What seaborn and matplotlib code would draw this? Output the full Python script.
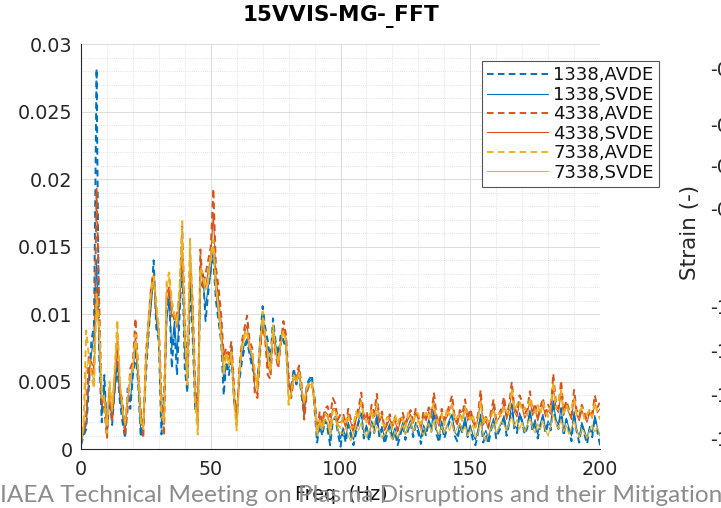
import matplotlib
matplotlib.use("Agg")
import matplotlib.pyplot as plt
import seaborn as sns
from matplotlib.ticker import FixedLocator, MultipleLocator, FixedFormatter

# Frequency axis of the FFT (Hz)
freq_hz = list(range(0, 201))

# FFT amplitude of the strain signal for each case
amp_1338_avde = [
    0.0003, 0.0010, 0.0015, 0.0045, 0.0080, 0.0092, 0.0282, 0.0070, 0.0020, 0.0055,
    0.0012, 0.0040, 0.0018, 0.0045, 0.0060, 0.0035, 0.0020, 0.0008, 0.0045, 0.0030,
    0.0055, 0.0070, 0.0050, 0.0009, 0.0020, 0.0055, 0.0085, 0.0110, 0.0140, 0.0090,
    0.0080, 0.0011, 0.0040, 0.0100, 0.0115, 0.0060, 0.0090, 0.0055, 0.0100, 0.0140,
    0.0060, 0.0042, 0.0120, 0.0085, 0.0030, 0.0025, 0.0125, 0.0130, 0.0095, 0.0115,
    0.0135, 0.0140, 0.0110, 0.0095, 0.0080, 0.0040, 0.0065, 0.0055, 0.0070, 0.0035,
    0.0025, 0.0050, 0.0065, 0.0075, 0.0080, 0.0070, 0.0060, 0.0055, 0.0050, 0.0080,
    0.0106, 0.0090, 0.0080, 0.0065, 0.0097, 0.0080, 0.0070, 0.0085, 0.0080, 0.0075,
    0.0045, 0.0045, 0.0060, 0.0048, 0.0055, 0.0040, 0.0025, 0.0048, 0.0052, 0.0055,
    0.0030, 0.0005, 0.0018, 0.0010, 0.0022, 0.0015, 0.0003, 0.0020, 0.0024, 0.0012,
    0.0002, 0.0014, 0.0005, 0.0018, 0.0010, 0.0003, 0.0012, 0.0020, 0.0026, 0.0008,
    0.0016, 0.0006, 0.0019, 0.0012, 0.0024, 0.0009, 0.0015, 0.0004, 0.0011, 0.0017,
    0.0006, 0.0013, 0.0003, 0.0010, 0.0018, 0.0007, 0.0014, 0.0020, 0.0009, 0.0018,
    0.0012, 0.0004, 0.0016, 0.0010, 0.0021, 0.0013, 0.0028, 0.0011, 0.0005, 0.0019,
    0.0008, 0.0015, 0.0020, 0.0025, 0.0010, 0.0006, 0.0017, 0.0012, 0.0022, 0.0009,
    0.0016, 0.0007, 0.0003, 0.0012, 0.0024, 0.0005, 0.0011, 0.0004, 0.0014, 0.0021,
    0.0008, 0.0013, 0.0017, 0.0024, 0.0010, 0.0019, 0.0033, 0.0015, 0.0012, 0.0026,
    0.0020, 0.0011, 0.0016, 0.0028, 0.0013, 0.0020, 0.0008, 0.0017, 0.0024, 0.0012,
    0.0019, 0.0014, 0.0035, 0.0020, 0.0015, 0.0030, 0.0010, 0.0022, 0.0014, 0.0006,
    0.0026, 0.0013, 0.0005, 0.0018, 0.0011, 0.0004, 0.0015, 0.0009, 0.0024, 0.0013,
    0.0003,
]

amp_1338_svde = [
    0.0005, 0.0012, 0.0018, 0.0050, 0.0070, 0.0085, 0.0140, 0.0075, 0.0028, 0.0048,
    0.0018, 0.0036, 0.0022, 0.0042, 0.0065, 0.0038, 0.0025, 0.0012, 0.0038, 0.0035,
    0.0058, 0.0075, 0.0052, 0.0014, 0.0018, 0.0058, 0.0088, 0.0105, 0.0128, 0.0095,
    0.0082, 0.0020, 0.0030, 0.0095, 0.0110, 0.0075, 0.0095, 0.0070, 0.0105, 0.0145,
    0.0070, 0.0050, 0.0125, 0.0090, 0.0035, 0.0022, 0.0120, 0.0125, 0.0105, 0.0120,
    0.0130, 0.0150, 0.0115, 0.0100, 0.0085, 0.0050, 0.0062, 0.0060, 0.0068, 0.0038,
    0.0022, 0.0052, 0.0070, 0.0078, 0.0082, 0.0072, 0.0065, 0.0055, 0.0048, 0.0078,
    0.0098, 0.0085, 0.0075, 0.0062, 0.0090, 0.0078, 0.0066, 0.0080, 0.0082, 0.0076,
    0.0048, 0.0042, 0.0056, 0.0050, 0.0056, 0.0042, 0.0028, 0.0046, 0.0050, 0.0052,
    0.0032, 0.0008, 0.0020, 0.0014, 0.0022, 0.0018, 0.0008, 0.0022, 0.0024, 0.0015,
    0.0008, 0.0016, 0.0009, 0.0020, 0.0013, 0.0007, 0.0015, 0.0022, 0.0027, 0.0012,
    0.0018, 0.0010, 0.0021, 0.0015, 0.0026, 0.0012, 0.0017, 0.0008, 0.0014, 0.0019,
    0.0010, 0.0016, 0.0007, 0.0013, 0.0020, 0.0011, 0.0017, 0.0022, 0.0012, 0.0020,
    0.0015, 0.0008, 0.0018, 0.0013, 0.0022, 0.0016, 0.0029, 0.0014, 0.0009, 0.0021,
    0.0012, 0.0017, 0.0022, 0.0026, 0.0013, 0.0010, 0.0019, 0.0015, 0.0024, 0.0012,
    0.0018, 0.0011, 0.0007, 0.0015, 0.0026, 0.0009, 0.0014, 0.0008, 0.0017, 0.0023,
    0.0011, 0.0016, 0.0019, 0.0025, 0.0013, 0.0021, 0.0034, 0.0018, 0.0015, 0.0027,
    0.0022, 0.0014, 0.0018, 0.0029, 0.0016, 0.0022, 0.0011, 0.0019, 0.0026, 0.0015,
    0.0021, 0.0017, 0.0036, 0.0022, 0.0018, 0.0031, 0.0013, 0.0023, 0.0016, 0.0010,
    0.0028, 0.0015, 0.0009, 0.0020, 0.0014, 0.0008, 0.0017, 0.0012, 0.0025, 0.0016,
    0.0010,
]

amp_4338_avde = [
    0.0008, 0.0015, 0.0025, 0.0070, 0.0060, 0.0050, 0.0193, 0.0110, 0.0035, 0.0030,
    0.0008, 0.0045, 0.0020, 0.0055, 0.0080, 0.0045, 0.0035, 0.0010, 0.0030, 0.0060,
    0.0065, 0.0097, 0.0060, 0.0030, 0.0008, 0.0070, 0.0095, 0.0120, 0.0130, 0.0105,
    0.0090, 0.0040, 0.0010, 0.0115, 0.0120, 0.0105, 0.0095, 0.0100, 0.0115, 0.0165,
    0.0095, 0.0055, 0.0145, 0.0110, 0.0050, 0.0018, 0.0148, 0.0120, 0.0130, 0.0140,
    0.0150, 0.0193, 0.0135, 0.0120, 0.0100, 0.0070, 0.0075, 0.0070, 0.0080, 0.0045,
    0.0018, 0.0060, 0.0080, 0.0090, 0.0099, 0.0080, 0.0075, 0.0040, 0.0038, 0.0070,
    0.0095, 0.0080, 0.0055, 0.0052, 0.0085, 0.0070, 0.0060, 0.0078, 0.0095, 0.0085,
    0.0055, 0.0038, 0.0052, 0.0055, 0.0062, 0.0048, 0.0022, 0.0042, 0.0048, 0.0047,
    0.0040, 0.0015, 0.0028, 0.0020, 0.0030, 0.0032, 0.0024, 0.0038, 0.0034, 0.0022,
    0.0026, 0.0027, 0.0018, 0.0030, 0.0022, 0.0014, 0.0025, 0.0031, 0.0042, 0.0024,
    0.0028, 0.0020, 0.0033, 0.0027, 0.0041, 0.0022, 0.0028, 0.0015, 0.0020, 0.0026,
    0.0018, 0.0024, 0.0014, 0.0022, 0.0027, 0.0019, 0.0025, 0.0029, 0.0021, 0.0030,
    0.0024, 0.0017, 0.0028, 0.0023, 0.0031, 0.0026, 0.0042, 0.0025, 0.0019, 0.0030,
    0.0022, 0.0027, 0.0033, 0.0040, 0.0024, 0.0020, 0.0029, 0.0026, 0.0037, 0.0023,
    0.0030, 0.0022, 0.0018, 0.0026, 0.0044, 0.0020, 0.0024, 0.0017, 0.0028, 0.0037,
    0.0022, 0.0026, 0.0030, 0.0039, 0.0025, 0.0033, 0.0050, 0.0031, 0.0027, 0.0040,
    0.0035, 0.0026, 0.0030, 0.0043, 0.0028, 0.0034, 0.0024, 0.0031, 0.0038, 0.0027,
    0.0033, 0.0029, 0.0056, 0.0035, 0.0030, 0.0051, 0.0028, 0.0036, 0.0030, 0.0025,
    0.0044, 0.0029, 0.0024, 0.0033, 0.0027, 0.0022, 0.0030, 0.0026, 0.0040, 0.0031,
    0.0035,
]

amp_4338_svde = [
    0.0006, 0.0013, 0.0020, 0.0055, 0.0065, 0.0060, 0.0120, 0.0090, 0.0032, 0.0040,
    0.0015, 0.0038, 0.0024, 0.0050, 0.0075, 0.0042, 0.0032, 0.0016, 0.0034, 0.0052,
    0.0062, 0.0085, 0.0056, 0.0028, 0.0014, 0.0062, 0.0090, 0.0112, 0.0125, 0.0100,
    0.0086, 0.0035, 0.0018, 0.0108, 0.0118, 0.0098, 0.0100, 0.0090, 0.0110, 0.0150,
    0.0088, 0.0052, 0.0135, 0.0105, 0.0045, 0.0024, 0.0140, 0.0122, 0.0120, 0.0132,
    0.0142, 0.0175, 0.0128, 0.0112, 0.0095, 0.0065, 0.0072, 0.0066, 0.0076, 0.0042,
    0.0024, 0.0056, 0.0076, 0.0086, 0.0092, 0.0076, 0.0070, 0.0045, 0.0040, 0.0072,
    0.0092, 0.0082, 0.0062, 0.0056, 0.0086, 0.0072, 0.0062, 0.0078, 0.0090, 0.0082,
    0.0052, 0.0040, 0.0054, 0.0052, 0.0060, 0.0046, 0.0026, 0.0044, 0.0048, 0.0048,
    0.0036, 0.0012, 0.0024, 0.0018, 0.0028, 0.0026, 0.0018, 0.0030, 0.0030, 0.0020,
    0.0020, 0.0022, 0.0016, 0.0026, 0.0020, 0.0012, 0.0022, 0.0028, 0.0036, 0.0022,
    0.0025, 0.0018, 0.0028, 0.0024, 0.0035, 0.0020, 0.0025, 0.0014, 0.0018, 0.0023,
    0.0016, 0.0022, 0.0013, 0.0020, 0.0024, 0.0017, 0.0022, 0.0026, 0.0019, 0.0027,
    0.0022, 0.0015, 0.0025, 0.0021, 0.0028, 0.0023, 0.0036, 0.0022, 0.0017, 0.0027,
    0.0020, 0.0024, 0.0029, 0.0034, 0.0022, 0.0018, 0.0026, 0.0023, 0.0032, 0.0021,
    0.0026, 0.0020, 0.0016, 0.0023, 0.0038, 0.0018, 0.0021, 0.0015, 0.0025, 0.0032,
    0.0020, 0.0023, 0.0027, 0.0034, 0.0022, 0.0029, 0.0043, 0.0028, 0.0024, 0.0035,
    0.0031, 0.0023, 0.0027, 0.0037, 0.0025, 0.0030, 0.0021, 0.0028, 0.0033, 0.0024,
    0.0029, 0.0026, 0.0046, 0.0031, 0.0027, 0.0043, 0.0025, 0.0032, 0.0027, 0.0022,
    0.0038, 0.0026, 0.0021, 0.0029, 0.0024, 0.0020, 0.0027, 0.0023, 0.0034, 0.0027,
    0.0030,
]

amp_7338_avde = [
    0.0004, 0.0020, 0.0088, 0.0070, 0.0055, 0.0045, 0.0115, 0.0095, 0.0040, 0.0035,
    0.0012, 0.0050, 0.0030, 0.0060, 0.0096, 0.0050, 0.0028, 0.0020, 0.0040, 0.0055,
    0.0060, 0.0085, 0.0060, 0.0020, 0.0015, 0.0065, 0.0095, 0.0120, 0.0128, 0.0110,
    0.0088, 0.0025, 0.0020, 0.0125, 0.0131, 0.0110, 0.0100, 0.0095, 0.0120, 0.0169,
    0.0085, 0.0048, 0.0156, 0.0105, 0.0035, 0.0011, 0.0135, 0.0130, 0.0120, 0.0125,
    0.0145, 0.0155, 0.0120, 0.0105, 0.0085, 0.0055, 0.0072, 0.0062, 0.0072, 0.0035,
    0.0014, 0.0055, 0.0078, 0.0085, 0.0088, 0.0075, 0.0072, 0.0058, 0.0045, 0.0078,
    0.0102, 0.0085, 0.0072, 0.0058, 0.0092, 0.0074, 0.0064, 0.0080, 0.0088, 0.0080,
    0.0033, 0.0042, 0.0055, 0.0050, 0.0058, 0.0044, 0.0035, 0.0046, 0.0050, 0.0050,
    0.0034, 0.0012, 0.0022, 0.0016, 0.0026, 0.0024, 0.0014, 0.0028, 0.0030, 0.0018,
    0.0016, 0.0024, 0.0020, 0.0026, 0.0015, 0.0018, 0.0028, 0.0022, 0.0035, 0.0026,
    0.0020, 0.0024, 0.0030, 0.0018, 0.0034, 0.0025, 0.0020, 0.0017, 0.0024, 0.0021,
    0.0015, 0.0026, 0.0018, 0.0025, 0.0022, 0.0016, 0.0027, 0.0024, 0.0018, 0.0028,
    0.0026, 0.0019, 0.0024, 0.0027, 0.0022, 0.0029, 0.0034, 0.0020, 0.0023, 0.0026,
    0.0018, 0.0030, 0.0025, 0.0033, 0.0021, 0.0024, 0.0027, 0.0020, 0.0031, 0.0025,
    0.0022, 0.0026, 0.0016, 0.0022, 0.0036, 0.0018, 0.0025, 0.0020, 0.0024, 0.0030,
    0.0019, 0.0027, 0.0024, 0.0032, 0.0028, 0.0026, 0.0045, 0.0029, 0.0033, 0.0036,
    0.0028, 0.0031, 0.0025, 0.0038, 0.0030, 0.0027, 0.0033, 0.0026, 0.0035, 0.0029,
    0.0024, 0.0032, 0.0050, 0.0030, 0.0036, 0.0044, 0.0027, 0.0033, 0.0028, 0.0030,
    0.0038, 0.0025, 0.0028, 0.0031, 0.0022, 0.0026, 0.0029, 0.0024, 0.0035, 0.0028,
    0.0022,
]

amp_7338_svde = [
    0.0005, 0.0015, 0.0060, 0.0065, 0.0058, 0.0050, 0.0105, 0.0088, 0.0038, 0.0040,
    0.0018, 0.0045, 0.0028, 0.0055, 0.0090, 0.0048, 0.0030, 0.0018, 0.0038, 0.0052,
    0.0060, 0.0080, 0.0058, 0.0024, 0.0016, 0.0062, 0.0092, 0.0115, 0.0125, 0.0105,
    0.0085, 0.0028, 0.0022, 0.0118, 0.0128, 0.0105, 0.0098, 0.0092, 0.0115, 0.0160,
    0.0082, 0.0050, 0.0150, 0.0102, 0.0038, 0.0014, 0.0130, 0.0125, 0.0118, 0.0122,
    0.0140, 0.0150, 0.0118, 0.0102, 0.0082, 0.0056, 0.0070, 0.0062, 0.0070, 0.0036,
    0.0016, 0.0054, 0.0075, 0.0082, 0.0086, 0.0074, 0.0070, 0.0056, 0.0046, 0.0076,
    0.0098, 0.0084, 0.0070, 0.0058, 0.0088, 0.0074, 0.0064, 0.0078, 0.0086, 0.0080,
    0.0036, 0.0042, 0.0054, 0.0050, 0.0056, 0.0044, 0.0034, 0.0045, 0.0048, 0.0048,
    0.0032, 0.0010, 0.0020, 0.0014, 0.0022, 0.0020, 0.0010, 0.0022, 0.0024, 0.0014,
    0.0012, 0.0012, 0.0016, 0.0010, 0.0006, 0.0012, 0.0018, 0.0014, 0.0020, 0.0015,
    0.0009, 0.0013, 0.0019, 0.0012, 0.0017, 0.0014, 0.0008, 0.0011, 0.0015, 0.0012,
    0.0007, 0.0013, 0.0009, 0.0014, 0.0018, 0.0011, 0.0016, 0.0020, 0.0013, 0.0017,
    0.0022, 0.0014, 0.0010, 0.0016, 0.0019, 0.0013, 0.0021, 0.0015, 0.0011, 0.0017,
    0.0012, 0.0018, 0.0014, 0.0020, 0.0012, 0.0016, 0.0019, 0.0013, 0.0017, 0.0010,
    0.0014, 0.0018, 0.0009, 0.0012, 0.0020, 0.0010, 0.0006, 0.0011, 0.0015, 0.0019,
    0.0012, 0.0016, 0.0021, 0.0018, 0.0014, 0.0019, 0.0024, 0.0017, 0.0022, 0.0015,
    0.0020, 0.0013, 0.0018, 0.0023, 0.0016, 0.0012, 0.0019, 0.0015, 0.0021, 0.0014,
    0.0010, 0.0017, 0.0026, 0.0019, 0.0015, 0.0022, 0.0013, 0.0018, 0.0011, 0.0016,
    0.0021, 0.0014, 0.0009, 0.0015, 0.0012, 0.0008, 0.0014, 0.0018, 0.0013, 0.0016,
    0.0010,
]

series_labels = ["1338,AVDE", "1338,SVDE", "4338,AVDE", "4338,SVDE", "7338,AVDE", "7338,SVDE"]
series_values = [amp_1338_avde, amp_1338_svde, amp_4338_avde,
                 amp_4338_svde, amp_7338_avde, amp_7338_svde]
case_colors = {"1338": "#0072BD", "4338": "#D95319", "7338": "#EDB120"}

x_ticks = [0, 50, 100, 150, 200]
y_ticks = [0, 0.005, 0.01, 0.015, 0.02, 0.025, 0.03]
y_tick_labels = ["0", "0.005", "0.01", "0.015", "0.02", "0.025", "0.03"]

# Neighbouring panel (strain history), cut off at the right edge
side_tick_labels = ["-0.2", "-0.4", "-0.6", "-0.8", "-1.2", "-1.4", "-1.6", "-1.8"]
side_tick_rows_px = [71, 127, 167, 211, 308, 352, 397, 441]

title_text = r"15VVIS-MG-$_{\_}$FFT"
footer_text = "IAEA Technical Meeting on Plasma Disruptions and their Mitigation"

sns.set_theme(style="white")
plt.rcParams["font.family"] = ["DejaVu Sans"]
plt.rcParams["mathtext.default"] = "bf"

W, H = 721, 508
fig = plt.figure(figsize=(W / 100, H / 100), dpi=100)
fig.patch.set_facecolor("white")
ax = fig.add_axes([81 / W, 1 - 449.3 / H, 519 / W, 405 / H])
ax.set_facecolor("white")

for label, values in zip(series_labels, series_values):
    case, mode = label.split(",")
    if mode == "AVDE":
        style = dict(linewidth=1.4, linestyle=(0, (3.4, 2.2)))
    else:
        style = dict(linewidth=0.8, linestyle="-")
    sns.lineplot(x=freq_hz, y=values, ax=ax, color=case_colors[case],
                 label=label, **style)

ax.set_xlim(0, 200)
ax.set_ylim(0, 0.03)
ax.xaxis.set_major_locator(FixedLocator(x_ticks))
ax.yaxis.set_major_locator(FixedLocator(y_ticks))
ax.yaxis.set_major_formatter(FixedFormatter(y_tick_labels))
ax.xaxis.set_minor_locator(MultipleLocator(10))
ax.yaxis.set_minor_locator(MultipleLocator(0.001))

ax.set_axisbelow(True)
ax.grid(which="major", color="#dcdcdc", linewidth=0.7, linestyle="-")
ax.grid(which="minor", color="#d8d8d8", linewidth=0.6, linestyle=(0, (1, 1.6)))

for side in ["top", "right"]:
    ax.spines[side].set_visible(False)
for side in ["left", "bottom"]:
    ax.spines[side].set_color("#262626")
    ax.spines[side].set_linewidth(0.8)

ax.tick_params(which="major", direction="in", length=5, width=0.8,
               color="#262626", labelcolor="#262626", labelsize=13.8)
ax.tick_params(axis="x", which="major", pad=8)
ax.tick_params(axis="y", which="major", pad=6)
ax.tick_params(which="minor", length=0)
ax.set_xlabel("")
ax.set_ylabel("")

leg = ax.legend(loc="upper left", bbox_to_anchor=(0.7726, 0.9588),
                borderaxespad=0, fontsize=13, frameon=True, fancybox=False,
                framealpha=1, edgecolor="#555555", borderpad=0.3,
                handlelength=3.35, handletextpad=0.3, labelspacing=0.08)
leg.get_frame().set_linewidth(0.8)
for txt in leg.get_texts():
    txt.set_color("#111111")

fig.text(340.5 / W, 1 - 18 / H, title_text, ha="center", va="center",
         fontsize=15.5, fontweight="bold", color="black")

fig.text(341 / W, 1 - 494 / H, "Freq. (Hz)", ha="center", va="center",
         fontsize=13.8, color="#111111")

fig.text(690 / W, 1 - 232 / H, "Strain (-)", ha="center", va="center",
         rotation=90, fontsize=15.5, color="#262626")
for lab, ypx in zip(side_tick_labels, side_tick_rows_px):
    fig.text(710 / W, 1 - ypx / H, lab, ha="left", va="center",
             fontsize=13.8, color="#262626")

footer = fig.text(0, 1 - 496 / H, footer_text, ha="left", va="center",
                  fontsize=18, color="#8c8c8c", family=["Lato", "DejaVu Sans"])
fig.canvas.draw()
width_px = footer.get_window_extent().width
footer.set_fontsize(18 * 716 / width_px)

fig.savefig("out.png", dpi=100, facecolor="white")
